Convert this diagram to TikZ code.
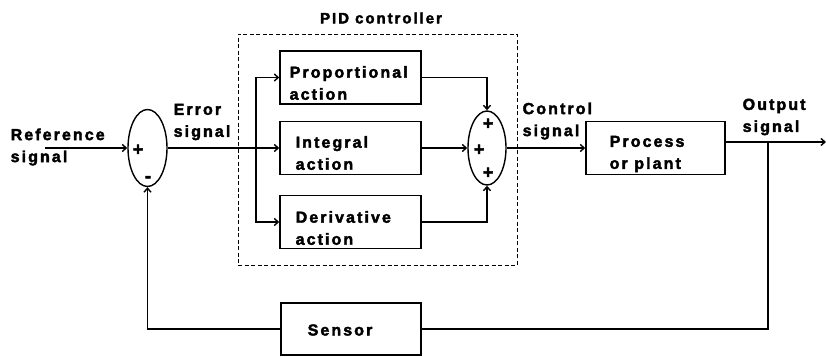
\documentclass[tikz,border=0pt]{standalone}
\usepackage{fontspec}
\newfontfamily\blockfont{Liberation Sans Bold}[LetterSpace=13,FakeBold=2.5]
\usetikzlibrary{positioning,shapes.geometric,arrows.meta}

\begin{document}
\begin{tikzpicture}[x=1pt,y=-1pt,line width=1.4pt,
       font=\blockfont\fontsize{16}{22}\selectfont,
       >={Straight Barb[length=4pt,width=7pt]}]

    \tikzstyle{block}=[draw,minimum width=141pt,minimum height=53pt,inner sep=0pt]
    \tikzstyle{summer}=[draw,ellipse,inner sep=0pt]
    \tikzstyle{txt}=[align=left,inner sep=0pt,anchor=west]
    \tikzstyle{sign}=[inner sep=0pt,font=\blockfont\fontsize{18}{18}\selectfont]

    \useasboundingbox (0,0) rectangle (826,356);

    % PID controller frame
    \node[draw,line width=1pt,dash pattern=on 4pt off 2.5pt,
          minimum width=279pt,minimum height=231pt] (pid) at (377.5,149.5) {};
    \node[inner sep=0pt,font=\blockfont\fontsize{15}{15}\selectfont] (pidt) at (381,18) {PID controller};

    % summing junctions
    \node[summer,minimum width=39pt,minimum height=77pt] (sum1) at (147.5,148) {};
    \node[summer,minimum width=38pt,minimum height=74pt] (sum2) at (487,148) {};
    \node[sign] (s1p) at (138,150) {+};
    \node[sign] (s1m) at (148,179) {-};
    \node[sign] (s2a) at (488,124) {+};
    \node[sign] (s2b) at (479,150) {+};
    \node[sign] (s2c) at (488,173) {+};

    % blocks
    \node[block] (prop) at (350.5,77.5) {};
    \node[block] (intg) at (350.5,148) {};
    \node[block] (deriv) at (350.5,222) {};
    \node[block,minimum width=139pt] (plant) at (655.5,148) {};
    \node[block,minimum width=140pt,minimum height=52pt] (sensor) at (351,329) {};

    \node[txt] (propt) at (289,83) {Proportional\\action};
    \node[txt] (intgt) at (295,153) {Integral\\action};
    \node[txt] (derivt) at (295,228) {Derivative\\action};
    \node[txt] (plantt) at (609,154) {Process\\or plant};
    \node[txt] (sensort) at (307,330) {Sensor};

    % signal names
    \node[txt] (reft) at (10,147) {Reference\\signal};
    \node[txt] (errt) at (173,122) {Error\\signal};
    \node[txt] (ctrlt) at (522,121) {Control\\signal};
    \node[txt] (outt) at (742,117) {Output\\signal};

    \coordinate (ref) at (45,148);
    \coordinate (split) at (256,148);
    \coordinate (tap) at (768,142);
    \coordinate (out) at (826,142);

    \draw[->] (ref) -- (sum1.west);
    \draw[->] (sum1.east) -- (intg.west);
    \draw[->] (split) |- (prop.west);
    \draw[->] (split) |- (deriv.west);
    \draw[->] (prop.east) -| (sum2.north);
    \draw[->] (intg.east) -- (sum2.west);
    \draw[->] (deriv.east) -| (sum2.south);
    \draw[->] (sum2.east) -- (plant.west);
    \draw[->] (plant.east |- out) -- (out);
    \draw (tap) |- (sensor.east);
    \draw[->] (sensor.west) -| (sum1.south);

\end{tikzpicture}
\end{document}
